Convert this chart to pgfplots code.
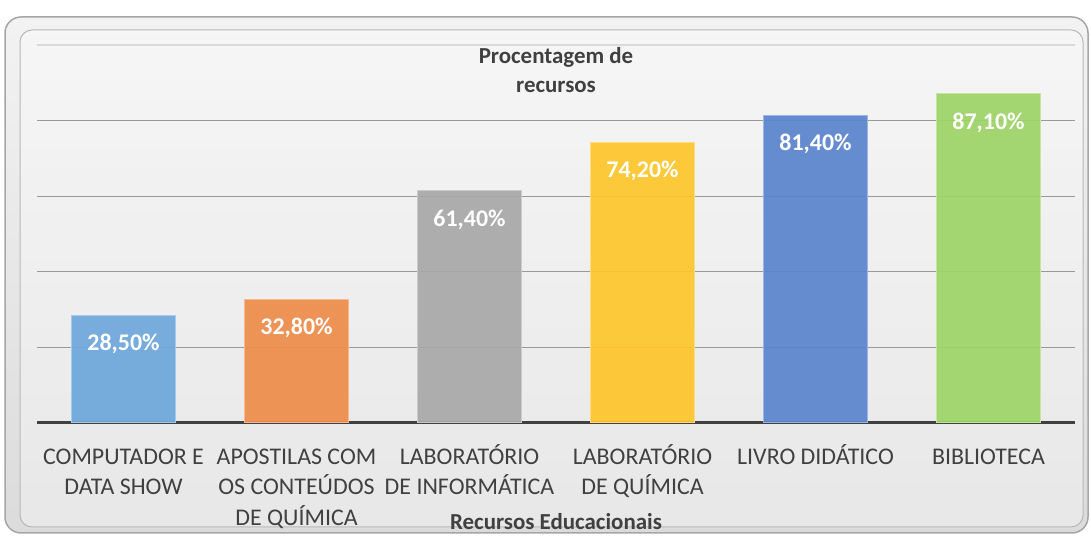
\documentclass[border=0pt]{standalone}
\usepackage{pgfplots}
\pgfplotsset{compat=1.18}
\usepackage{fontspec}
\setmainfont{Carlito}
\definecolor{cA}{HTML}{6DA7DB}
\definecolor{cB}{HTML}{EE8C4A}
\definecolor{cC}{HTML}{A8A8A8}
\definecolor{cD}{HTML}{FEC62B}
\definecolor{cE}{HTML}{5B84CE}
\definecolor{cF}{HTML}{9DD466}
\definecolor{txt}{HTML}{404040}
\definecolor{gridc}{HTML}{999999}
\begin{document}
\begin{tikzpicture}[x=1bp,y=1bp]
\path[fill=white] (0,0) rectangle (1091,539);
\shade[top color=black!5, bottom color=black!14, rounded corners=16bp] (5,6) rectangle (1088,522);
\shade[left color=black!0, right color=black!0, middle color=white, opacity=0.35, rounded corners=12bp] (20,12) rectangle (1083,509);
\draw[rounded corners=16bp, draw=black!35, line width=1.5bp] (5,6) rectangle (1088,522);
\draw[rounded corners=12bp, draw=black!28, line width=1bp] (20,12) rectangle (1083,509);
\begin{axis}[
  at={(37bp,116bp)}, anchor=south west,
  scale only axis, width=1038bp, height=378bp,
  xmin=-0.5, xmax=5.5, ymin=0, ymax=100,
  axis x line*=bottom, axis y line*=left,
  x axis line style={draw=txt, line width=3bp},
  y axis line style={draw=none},
  ytick={20,40,60,80}, yticklabels={},
  extra y ticks={100}, extra y tick labels={},
  extra y tick style={grid style={black!15, line width=1.2bp}},
  ymajorgrids, grid style={gridc, line width=1bp},
  major tick length=0pt,
  xtick={0,...,5},
  xticklabels={{COMPUTADOR E\\DATA SHOW},{APOSTILAS COM\\OS CONTEÚDOS\\DE QUÍMICA},{LABORATÓRIO\\DE INFORMÁTICA},{LABORATÓRIO\\DE QUÍMICA},{LIVRO DIDÁTICO},{BIBLIOTECA}},
  typeset ticklabels with strut,
  xticklabel style={align=center, font=\fontsize{24}{30.5}\selectfont, text=txt, anchor=north, yshift=-16.5bp},
  ybar, bar width=104bp, bar shift=0pt,
  nodes near coords, point meta=explicit symbolic,
  every node near coord/.append style={font=\bfseries\fontsize{24}{28}\selectfont, text=white, anchor=north, yshift=-15bp},
  clip=false,
]
\addplot[fill=cA, draw=cA!60!white, line width=1bp, fill opacity=0.92, text opacity=1] coordinates {(0,28.5) [28,50\%]};
\addplot[fill=cB, draw=cB!60!white, line width=1bp, fill opacity=0.92, text opacity=1] coordinates {(1,32.8) [32,80\%]};
\addplot[fill=cC, draw=cC!60!white, line width=1bp, fill opacity=0.92, text opacity=1] coordinates {(2,61.4) [61,40\%]};
\addplot[fill=cD, draw=cD!60!white, line width=1bp, fill opacity=0.92, text opacity=1] coordinates {(3,74.2) [74,20\%]};
\addplot[fill=cE, draw=cE!60!white, line width=1bp, fill opacity=0.92, text opacity=1] coordinates {(4,81.4) [81,40\%]};
\addplot[fill=cF, draw=cF!60!white, line width=1bp, fill opacity=0.92, text opacity=1] coordinates {(5,87.1) [87,10\%]};
\end{axis}
\node[align=center, font=\bfseries\fontsize{23}{30}\selectfont, text=txt] at (556,469) {Procentagem de\\recursos};
\node[font=\bfseries\fontsize{23}{26}\selectfont, text=txt] at (556,17) {Recursos Educacionais};
\end{tikzpicture}
\end{document}
